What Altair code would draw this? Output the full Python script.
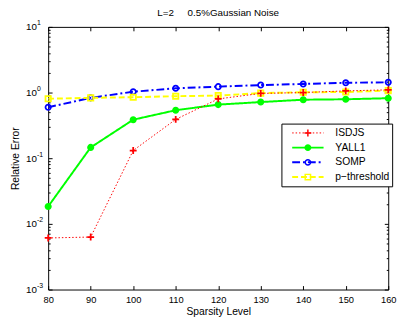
import altair as alt
import pandas as pd

# ---- data ----
sparsity = [80, 90, 100, 110, 120, 130, 140, 150, 160]
isdjs = [0.0061, 0.0063, 0.131, 0.39, 0.80, 0.97, 1.00, 1.06, 1.10]
yall1 = [0.0184, 0.146, 0.386, 0.538, 0.655, 0.716, 0.778, 0.79, 0.82]
somp = [0.597, 0.83, 1.03, 1.16, 1.23, 1.30, 1.35, 1.41, 1.43]
pthr = [0.805, 0.83, 0.85, 0.88, 0.90, 0.98, 1.01, 1.02, 1.07]

series_names = ["ISDJS", "YALL1", "SOMP", "p\u2212threshold"]
series_colors = ["#ff0000", "#00ff00", "#0000ff", "#ffff00"]
series_dash = [[1.5, 2], [1, 0], [8, 3, 2, 3], [6, 3]]
series_width = [1, 2, 2, 2]
series_fill = ["transparent", "#00ff00", "transparent", "transparent"]
series_shape = [
    "M-0.22,0H0.22M0,-0.22V0.22",
    "M0.17,0A0.17,0.17,0,1,1,-0.17,0A0.17,0.17,0,1,1,0.17,0Z",
    "M0.17,0A0.17,0.17,0,1,1,-0.17,0A0.17,0.17,0,1,1,0.17,0Z",
    "M-0.17,-0.17H0.17V0.17H-0.17Z",
]

x_ticks = [80, 90, 100, 110, 120, 130, 140, 150, 160]
y_major = [0.001, 0.01, 0.1, 1, 10]
y_minor = [m * d for d in [0.001, 0.01, 0.1, 1] for m in range(2, 10)]

draw_order = [("YALL1", yall1), ("SOMP", somp), ("p\u2212threshold", pthr), ("ISDJS", isdjs)]
rows = []
for name, vals in draw_order:
    for s, v in zip(sparsity, vals):
        rows.append({"sparsity": s, "error": v, "series": name, "method": name})
df = pd.DataFrame(rows)

FONT = "Liberation Sans"
W, H = 347, 268

xscale = alt.Scale(domain=[80, 160], nice=False, zero=False)
yscale = alt.Scale(type="log", domain=[0.001, 10], nice=False)

base = alt.Chart(df)


def tick_axis(orient, offset, values, size):
    return alt.Axis(orient=orient, offset=offset, values=values, tickSize=size,
                    ticks=True, labels=False, domain=False, grid=False, title=None,
                    tickColor="black", tickWidth=1)


# label axes
ax_labels = base.mark_point(opacity=0).encode(
    x=alt.X("sparsity:Q", scale=xscale, axis=alt.Axis(
        orient="bottom", values=x_ticks, ticks=False, domain=False, grid=False,
        labelFont=FONT, labelFontSize=9.5, labelColor="black", labelPadding=5,
        labelFlush=False, format="d",
        title="Sparsity Level", titleFont=FONT, titleFontSize=10.5,
        titleFontWeight="normal", titleColor="black", titlePadding=3)),
    y=alt.Y("error:Q", scale=yscale, axis=alt.Axis(
        orient="left", values=y_major, ticks=False, domain=False, grid=False,
        labelExpr="'10'", labelFont=FONT, labelFontSize=10, labelColor="black",
        labelPadding=12, labelFlush=False,
        title="Relative Error", titleFont=FONT, titleFontSize=10.5,
        titleFontWeight="normal", titleColor="black", titlePadding=5)),
)
ax_exp = base.mark_point(opacity=0).encode(
    x=alt.X("sparsity:Q", scale=xscale, axis=tick_axis("top", -H, x_ticks, 4)),
    y=alt.Y("error:Q", scale=yscale, axis=alt.Axis(
        orient="left", values=y_major, ticks=False, domain=False, grid=False,
        labelExpr="'' + round(log(datum.value) / LN10)", labelFont=FONT,
        labelFontSize=7, labelColor="black", labelPadding=12, labelAlign="left",
        labelOffset=-4, labelFlush=False, title=None)),
)
ax_c = base.mark_point(opacity=0).encode(
    x=alt.X("sparsity:Q", scale=xscale, axis=tick_axis("bottom", -H, x_ticks, 4)),
    y=alt.Y("error:Q", scale=yscale, axis=tick_axis("right", -W, y_major, 4)),
)
ax_d = base.mark_point(opacity=0).encode(
    x=alt.X("sparsity:Q", scale=xscale, axis=None),
    y=alt.Y("error:Q", scale=yscale, axis=tick_axis("right", -W, y_minor, 2)),
)
ax_e = base.mark_point(opacity=0).encode(
    x=alt.X("sparsity:Q", scale=xscale, axis=None),
    y=alt.Y("error:Q", scale=yscale, axis=tick_axis("left", -W, y_major, 4)),
)
ax_f = base.mark_point(opacity=0).encode(
    x=alt.X("sparsity:Q", scale=xscale, axis=None),
    y=alt.Y("error:Q", scale=yscale, axis=tick_axis("left", -W, y_minor, 2)),
)

LX, LY = 238, 98.7
legend_lines = alt.Legend(
    title=None, orient="none", legendX=LX, legendY=LY,
    symbolType="M-1,0H1", symbolSize=1024, clipHeight=15, rowPadding=0,
    padding=2, symbolOffset=8, labelOffset=11,
    strokeColor="black", fillColor="white",
    labelFont=FONT, labelFontSize=10.5, labelColor="black", labelLimit=200, zindex=0)
legend_marks = alt.Legend(
    title=None, orient="none", legendX=LX, legendY=LY,
    symbolSize=1024, clipHeight=15, rowPadding=0,
    padding=2, symbolOffset=8, labelOffset=11,
    labelFont=FONT, labelFontSize=10.5, labelOpacity=0, labelLimit=200, zindex=1)

lines = base.mark_line(clip=True).encode(
    x=alt.X("sparsity:Q", scale=xscale, axis=None),
    y=alt.Y("error:Q", scale=yscale, axis=None),
    stroke=alt.Stroke("series:N", scale=alt.Scale(domain=series_names, range=series_colors),
                      legend=legend_lines),
    strokeDash=alt.StrokeDash("series:N", scale=alt.Scale(domain=series_names, range=series_dash),
                              legend=legend_lines),
    strokeWidth=alt.StrokeWidth("series:N", scale=alt.Scale(type="ordinal", domain=series_names,
                                                            range=series_width),
                                legend=legend_lines),
    detail="series:N",
)

points = base.mark_point(filled=False, size=1024, strokeWidth=1.8, opacity=1).encode(
    x=alt.X("sparsity:Q", scale=xscale, axis=None),
    y=alt.Y("error:Q", scale=yscale, axis=None),
    stroke=alt.Stroke("method:N", scale=alt.Scale(domain=series_names, range=series_colors),
                      legend=legend_marks),
    shape=alt.Shape("method:N", scale=alt.Scale(domain=series_names, range=series_shape),
                    legend=legend_marks),
    fill=alt.Fill("method:N", scale=alt.Scale(domain=series_names, range=series_fill),
                  legend=legend_marks),
    order=alt.Order("idx:Q"),
).transform_window(idx="row_number()")

chart = alt.layer(
    ax_labels, ax_exp, ax_c, ax_d, ax_e, ax_f, lines, points
).resolve_scale(
    stroke="independent", strokeDash="independent", strokeWidth="independent",
    shape="independent", fill="independent"
).resolve_legend(
    stroke="independent", strokeDash="independent", strokeWidth="independent",
    shape="independent", fill="independent"
).resolve_axis(
    x="independent", y="independent"
).properties(
    width=W, height=H,
    padding={"left": 41, "top": 16, "right": 12, "bottom": 37},
    autosize=alt.AutoSizeParams(type="none"),
    title=alt.Title("L=2\u00a0\u00a0\u00a0\u00a0\u00a00.5%Gaussian Noise", font=FONT,
                    fontSize=10, fontWeight="normal", color="black",
                    offset=7, dy=6, frame="group", anchor="middle"),
    background="white",
).configure_view(
    stroke="black", strokeWidth=1
)

chart.save("out.html", embed_options={"renderer": "svg", "actions": False})
